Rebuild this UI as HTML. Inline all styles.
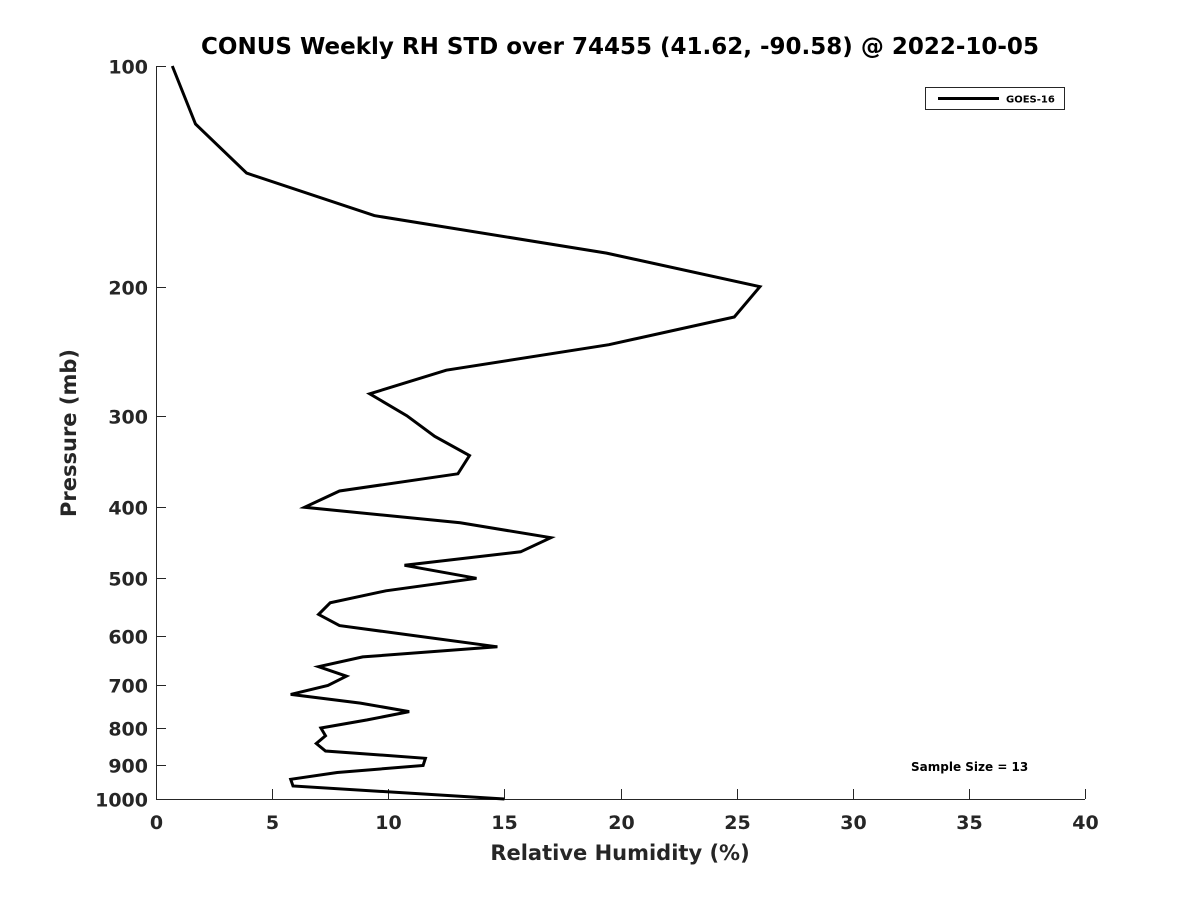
<!DOCTYPE html>
<html><head><meta charset="utf-8"><style>
body{margin:0;background:#fff;}
svg text{font-family:"DejaVu Sans","Liberation Sans",sans-serif;font-weight:bold;fill:#262626;}
</style></head><body>
<svg width="1200" height="900" viewBox="0 0 1200 900">
<text x="620" y="54" text-anchor="middle" font-size="23" style="fill:#000">CONUS Weekly RH STD over 74455 (41.62, -90.58) @ 2022-10-05</text>
<g id="axes"></g>
<polyline id="line" fill="none" stroke="#000" stroke-width="3" stroke-linejoin="miter"/>
<g>
<rect x="925.5" y="87.5" width="139" height="22" fill="#fff" stroke="#262626" stroke-width="1"/>
<line x1="938" y1="98.5" x2="999" y2="98.5" stroke="#000" stroke-width="3"/>
<text x="1006" y="102.5" font-size="10" style="fill:#000">GOES-16</text>
</g>
<text x="911" y="771" font-size="12" style="fill:#000">Sample Size = 13</text>
<text x="620" y="860" text-anchor="middle" font-size="21">Relative Humidity (%)</text>
<text transform="translate(76,433) rotate(-90)" text-anchor="middle" font-size="21">Pressure (mb)</text>
</svg>
<script>
const pressures=[100,120,140,160,180,200,220,240,260,280,300,320,340,360,380,400,420,440,460,480,500,520,540,560,580,620,640,660,680,700,720,740,760,780,800,820,840,860,880,900,920,940,960,1000];
const rhStd=[0.7,1.7,3.9,9.4,19.4,26.0,24.9,19.5,12.5,9.2,10.8,12.0,13.5,13.0,7.9,6.4,13.1,17.0,15.7,10.7,13.8,9.9,7.5,7.0,7.9,14.7,8.9,7.0,8.2,7.4,5.8,8.8,10.9,9.1,7.1,7.3,6.9,7.3,11.6,11.5,7.8,5.8,5.9,15.0];
const xTicks=[0,5,10,15,20,25,30,35,40];
const yTicks=[100,200,300,400,500,600,700,800,900,1000];
const X0=156,X1=1085,Y0=66,Y1=799;
const xs=v=>X0+(v-0)/40*(X1-X0);
const ys=p=>Y0+Math.log10(p/100)*(Y1-Y0);
const NS="http://www.w3.org/2000/svg";
const ax=document.getElementById('axes');
function mk(t,a){const e=document.createElementNS(NS,t);for(const k in a)e.setAttribute(k,a[k]);ax.appendChild(e);return e;}
const xl=mk('line',{x1:X0,y1:Y1+0.5,x2:X1,y2:Y1+0.5,stroke:'#262626','stroke-width':1});


const yl=mk('line',{x1:X0+0.5,y1:Y0,x2:X0+0.5,y2:Y1,stroke:'#262626','stroke-width':1});


xTicks.forEach(v=>{
 const x=Math.round(xs(v))+0.5;
 const t=mk('line',{x1:x,y1:Y1,x2:x,y2:Y1-10,stroke:'#262626'});
 
 
 const l=mk('text',{x:x,y:Y1+30,'text-anchor':'middle','font-size':19});
 l.textContent=v;
 
 
});
yTicks.forEach(p=>{
 const y=Math.round(ys(p))+0.5;
 const t=mk('line',{x1:X0,y1:y,x2:X0+10,y2:y,stroke:'#262626'});
 
 
 const l=mk('text',{x:X0-8,y:y+7,'text-anchor':'end','font-size':19});
 l.textContent=p;
 
 
});
document.getElementById('line').setAttribute('points',pressures.map((p,i)=>xs(rhStd[i]).toFixed(1)+','+ys(p).toFixed(1)).join(' '));
</script>
</body></html>
